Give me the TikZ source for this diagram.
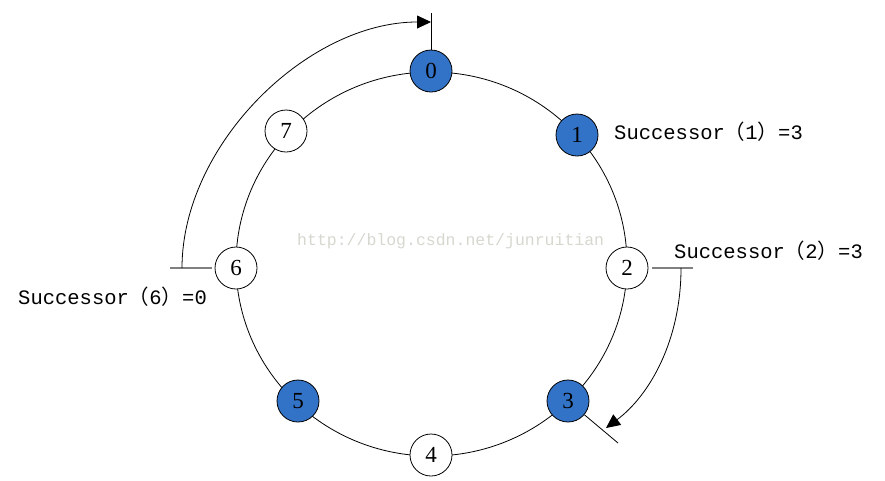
\documentclass[tikz,border=0pt]{standalone}
\usepackage{fontspec}
\setmainfont{Liberation Serif}
\setmonofont{Liberation Mono}
\newfontfamily\cjk{Noto Sans CJK SC}
\usetikzlibrary{arrows.meta,backgrounds}
\definecolor{peerblue}{RGB}{50,115,200}
\definecolor{tickgray}{RGB}{128,128,128}
\definecolor{markgray}{RGB}{215,215,208}
\begin{document}
\begin{tikzpicture}[x=1pt,y=-1pt,
    every node/.style={font=\fontsize{23}{23}\selectfont},
    peer/.style={circle,draw,line width=0.8pt,minimum size=42pt,inner sep=0pt,fill=white},
    live/.style={peer,fill=peerblue},
    succtext/.style={anchor=west,inner sep=0pt,font=\ttfamily\fontsize{20.5}{20.5}\selectfont},
    webmark/.style={anchor=west,inner sep=0pt,text=markgray,font=\ttfamily\fontsize{16.5}{16.5}\selectfont},
    hop/.style={line width=0.8pt,-{Triangle[length=14pt,width=13pt]}},
    tick/.style={line width=1.5pt,tickgray}]
  \useasboundingbox (0,0) rectangle (885,480);
  \node[webmark] (mark) at (297,241) {http://blog.csdn.net/junruitian};

  \node[live] (n0) at (431,71)  {0};
  \node[live] (n1) at (577,135) {1};
  \node[peer] (n2) at (627,268) {2};
  \node[live] (n3) at (568,401) {3};
  \node[peer] (n4) at (431,455) {4};
  \node[live] (n5) at (298,401) {5};
  \node[peer] (n6) at (236,268) {6};
  \node[peer] (n7) at (286,131) {7};
  \begin{scope}[on background layer]
    \coordinate (ring) at (431.5,264);
    \draw[line width=0.8pt] (ring) ellipse [x radius=195.5pt,y radius=192pt];
  \end{scope}

  \node[succtext] (s1) at (614,132) {Successor{\cjk （}1{\cjk ）}=3};
  \node[succtext] (s2) at (674,251) {Successor{\cjk （}2{\cjk ）}=3};
  \node[succtext] (s6) at (18,297)  {Successor{\cjk （}6{\cjk ）}=0};

  % marks at the nodes
  \coordinate (top0) at (431,13);
  \coordinate (out3) at (618,443);
  \coordinate (a2) at (652,268);
  \coordinate (b2) at (693,268);
  \coordinate (a6) at (170,268);
  \coordinate (b6) at (212,268);
  \draw[line width=0.8pt] (n0) -- (top0);
  \draw[line width=0.8pt] (n3) -- (out3);
  \foreach \from/\to in {a2/b2,a6/b6}
    \draw[tick] (\from) -- (\to);

  % successor hops
  \coordinate (t6) at (182,268);
  \coordinate (tip0) at (431,22);
  \coordinate (t2) at (681,268);
  \coordinate (tip3) at (606,428);
  \draw[hop] (t6) .. controls (182,145) and (307,22) .. (tip0);
  \draw[hop] (t2) .. controls (681,340) and (650,395) .. (tip3);
\end{tikzpicture}
\end{document}
